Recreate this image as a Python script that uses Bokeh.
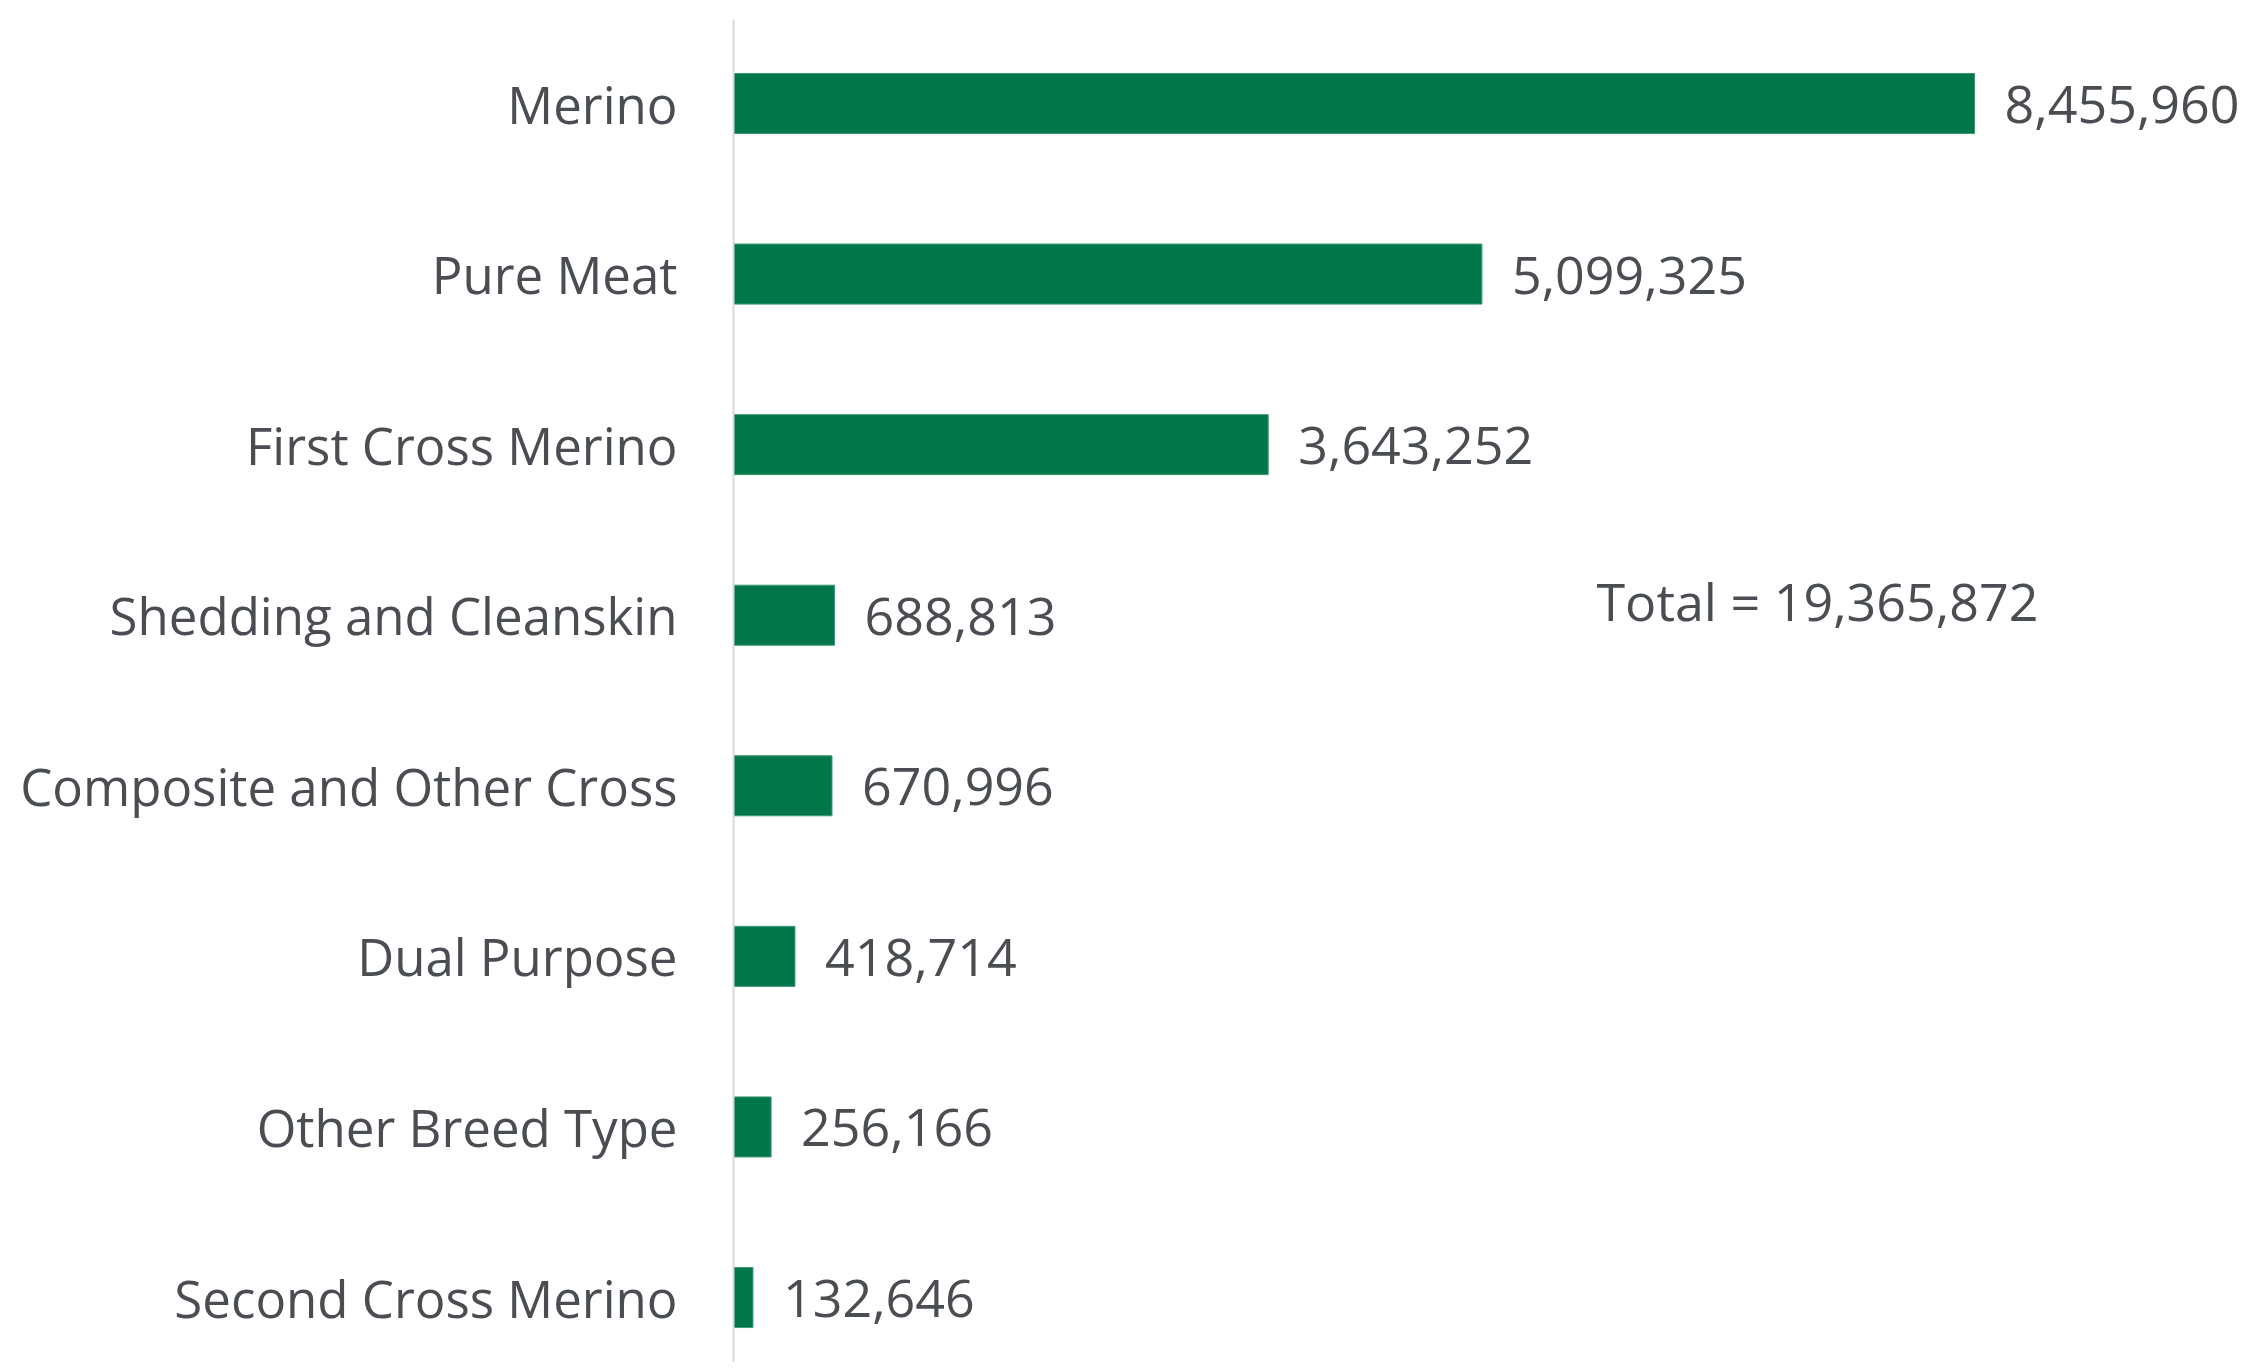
from bokeh.plotting import figure
from bokeh.models import ColumnDataSource, Range1d, FixedTicker, Label
from bokeh.core.properties import value
from bokeh.embed import file_html
from bokeh.resources import INLINE

categories = ["Merino", "Pure Meat", "First Cross Merino", "Shedding and Cleanskin",
              "Composite and Other Cross", "Dual Purpose", "Other Breed Type",
              "Second Cross Merino"]
counts = [8455960, 5099325, 3643252, 688813, 670996, 418714, 256166, 132646]
total_text = "Total = 19,365,872"

FONT = "Open Sans"
TEXT_COLOR = "#4a4d52"
BAR_COLOR = "#00774a"

pos = list(range(len(categories)))
src = ColumnDataSource(dict(
    y=pos,
    right=counts,
    label=[f"{c:,}" for c in counts],
))

p = figure(width=2241, height=1362, output_backend="svg", toolbar_location=None,
           x_range=Range1d(0, 10.275e6), y_range=Range1d(7.381, -0.4925),
           min_border_left=733, min_border_right=0, min_border_top=19, min_border_bottom=0)
p.outline_line_color = None
p.xgrid.visible = False
p.ygrid.visible = False
p.xaxis.visible = False

p.hbar(y="y", left=0, right="right", height=0.352, source=src,
       fill_color=BAR_COLOR, line_color="#3f9a72", line_width=1)

p.text(x="right", y="y", text="label", source=src, x_offset=30, y_offset=1,
       text_font=value(FONT), text_font_size="52px", text_color=TEXT_COLOR,
       text_align="left", text_baseline="middle")

p.add_layout(Label(x=5.88e6, y=2.915, text=total_text, text_font=FONT,
                   text_font_size="52px", text_color=TEXT_COLOR,
                   text_align="left", text_baseline="middle"))

yax = p.yaxis[0]
yax.ticker = FixedTicker(ticks=pos)
yax.major_label_overrides = {i: c for i, c in zip(pos, categories)}
yax.major_label_text_font = FONT
yax.major_label_text_font_size = "51px"
yax.major_label_text_color = TEXT_COLOR
yax.major_label_standoff = 56
yax.major_tick_in = 0
yax.major_tick_out = 0
yax.minor_tick_in = 0
yax.minor_tick_out = 0
yax.axis_line_color = "#d9d9d9"
yax.axis_line_width = 2

open("out.html", "w").write(file_html(p, INLINE))
